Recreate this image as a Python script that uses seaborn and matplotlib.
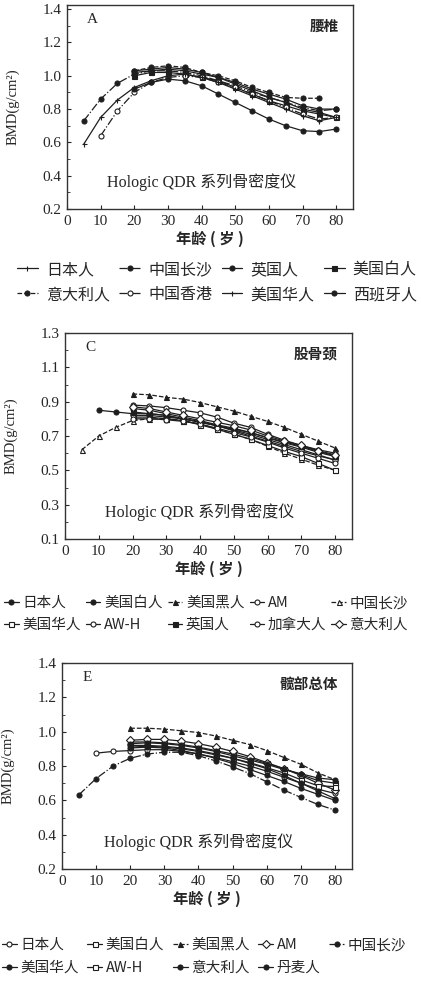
import matplotlib
matplotlib.use("Agg")
import matplotlib.pyplot as plt
import seaborn as sns
from matplotlib.ticker import MultipleLocator

# ---- x 轴年龄 ----
AGE_5 = [5, 10, 15, 20, 25, 30, 35, 40, 45, 50, 55, 60, 65, 70, 75, 80]
AGE_10 = [10, 15, 20, 25, 30, 35, 40, 45, 50, 55, 60, 65, 70, 75, 80]
AGE_20 = [20, 25, 30, 35, 40, 45, 50, 55, 60, 65, 70, 75, 80]
AGE_20_75 = [20, 25, 30, 35, 40, 45, 50, 55, 60, 65, 70, 75]

# ---- A 腰椎 ----
A_RIBEN = [1.02, 1.03, 1.04, 1.03, 1.01, 0.99, 0.95, 0.91, 0.87, 0.84, 0.80, 0.78, 0.75]
A_CHANGSHA = [0.73, 0.86, 0.955, 1.01, 1.03, 1.03, 1.02, 1.00, 0.97, 0.94, 0.90, 0.87, 0.84, 0.81, 0.79, 0.80]
A_YINGGUO = [1.03, 1.04, 1.05, 1.04, 1.02, 0.99, 0.96, 0.92, 0.89, 0.86, 0.82, 0.80, 0.80]
A_MEIBAI = [1.00, 1.02, 1.02, 1.01, 0.99, 0.97, 0.93, 0.89, 0.85, 0.82, 0.79, 0.77, 0.75]
A_YIDALI = [1.03, 1.05, 1.06, 1.05, 1.02, 1.00, 0.97, 0.93, 0.90, 0.87, 0.865, 0.865]
A_XIANGGANG = [0.64, 0.79, 0.90, 0.96, 0.99, 1.00, 0.99, 0.96, 0.93, 0.89, 0.85, 0.81, 0.77, 0.74, 0.75]
A_MEIHUA = [0.59, 0.75, 0.855, 0.93, 0.97, 1.00, 1.01, 0.99, 0.96, 0.92, 0.88, 0.84, 0.80, 0.76, 0.73, 0.75]
A_XIBANYA = [0.92, 0.96, 0.98, 0.97, 0.94, 0.89, 0.84, 0.79, 0.74, 0.70, 0.67, 0.665, 0.68]

# ---- C 股骨颈 ----
C_RIBEN = [0.85, 0.84, 0.83, 0.83, 0.82, 0.80, 0.78, 0.76, 0.73, 0.70, 0.67, 0.64, 0.61, 0.585, 0.56]
C_MEIBAI = [0.86, 0.85, 0.83, 0.81, 0.79, 0.765, 0.745, 0.72, 0.69, 0.66, 0.635, 0.605, 0.58]
C_MEIHEI = [0.945, 0.94, 0.925, 0.915, 0.895, 0.87, 0.845, 0.815, 0.785, 0.75, 0.71, 0.67, 0.63]
C_AM = [0.88, 0.875, 0.865, 0.85, 0.835, 0.81, 0.775, 0.75, 0.71, 0.675, 0.645, 0.62, 0.60]
C_CHANGSHA = [0.62, 0.70, 0.75, 0.79, 0.80, 0.80, 0.79, 0.77, 0.74, 0.71, 0.68, 0.64, 0.60, 0.565, 0.53, 0.50]
C_MEIHUA = [0.81, 0.81, 0.80, 0.79, 0.765, 0.74, 0.71, 0.68, 0.645, 0.61, 0.58, 0.54, 0.50]
C_AWH = [0.82, 0.82, 0.81, 0.80, 0.78, 0.76, 0.735, 0.71, 0.68, 0.65, 0.62, 0.59, 0.56]
C_YINGGUO = [0.84, 0.83, 0.82, 0.80, 0.785, 0.76, 0.74, 0.72, 0.69, 0.665, 0.64, 0.61, 0.585]
C_JIANADA = [0.80, 0.80, 0.795, 0.785, 0.77, 0.745, 0.72, 0.695, 0.665, 0.63, 0.60, 0.57, 0.54]
C_YIDALI = [0.87, 0.86, 0.84, 0.82, 0.80, 0.78, 0.76, 0.735, 0.70, 0.67, 0.645, 0.615, 0.59]

# ---- E 髋部总体 ----
E_RIBEN = [0.875, 0.885, 0.89, 0.895, 0.895, 0.885, 0.87, 0.85, 0.825, 0.80, 0.77, 0.735, 0.70, 0.665, 0.64]
E_MEIBAI = [0.94, 0.94, 0.935, 0.925, 0.91, 0.89, 0.87, 0.845, 0.815, 0.785, 0.75, 0.715, 0.70]
E_MEIHEI = [1.02, 1.02, 1.015, 1.005, 0.995, 0.975, 0.95, 0.925, 0.89, 0.85, 0.81, 0.76, 0.72]
E_AM = [0.95, 0.955, 0.955, 0.945, 0.93, 0.91, 0.885, 0.855, 0.82, 0.785, 0.745, 0.70, 0.66]
E_CHANGSHA = [0.633, 0.727, 0.80, 0.845, 0.87, 0.88, 0.88, 0.86, 0.83, 0.795, 0.756, 0.708, 0.66, 0.617, 0.576, 0.543]
E_MEIHUA = [0.93, 0.935, 0.93, 0.92, 0.905, 0.885, 0.86, 0.835, 0.81, 0.78, 0.755, 0.73, 0.72]
E_AWH = [0.91, 0.915, 0.91, 0.90, 0.885, 0.865, 0.845, 0.82, 0.79, 0.76, 0.72, 0.685, 0.68]
E_YIDALI = [0.905, 0.91, 0.905, 0.89, 0.87, 0.845, 0.815, 0.78, 0.745, 0.71, 0.67, 0.635, 0.60]
E_DANMAI = [0.92, 0.92, 0.915, 0.905, 0.89, 0.87, 0.845, 0.815, 0.785, 0.745, 0.70, 0.655, 0.61]

INK = "#1e1e1e"

SERIES_A = [
    ("日本人", AGE_20, A_RIBEN, "|", True, "-"),
    ("中国长沙", AGE_5, A_CHANGSHA, "o", True, "-."),
    ("英国人", AGE_20, A_YINGGUO, "o", True, "-"),
    ("美国白人", AGE_20, A_MEIBAI, "s", True, "-"),
    ("意大利人", AGE_20_75, A_YIDALI, "o", True, "--"),
    ("中国香港", AGE_10, A_XIANGGANG, "o", False, "-."),
    ("美国华人", AGE_5, A_MEIHUA, "+", True, "-"),
    ("西班牙人", AGE_20, A_XIBANYA, "o", True, "-"),
]
SERIES_C = [
    ("日本人", AGE_10, C_RIBEN, "o", True, "-"),
    ("美国白人", AGE_20, C_MEIBAI, "o", True, "-"),
    ("美国黑人", AGE_20, C_MEIHEI, "^", True, "--"),
    ("AM", AGE_20, C_AM, "o", False, "-"),
    ("中国长沙", AGE_5, C_CHANGSHA, "^", False, "--"),
    ("美国华人", AGE_20, C_MEIHUA, "s", False, "-"),
    ("AW-H", AGE_20, C_AWH, "o", False, "-"),
    ("英国人", AGE_20, C_YINGGUO, "s", True, "-"),
    ("加拿大人", AGE_20, C_JIANADA, "o", False, "-"),
    ("意大利人", AGE_20, C_YIDALI, "D", False, "-"),
]
SERIES_E = [
    ("日本人", AGE_10, E_RIBEN, "o", False, "-"),
    ("美国白人", AGE_20, E_MEIBAI, "s", False, "-"),
    ("美国黑人", AGE_20, E_MEIHEI, "^", True, "--"),
    ("AM", AGE_20, E_AM, "D", False, "-"),
    ("中国长沙", AGE_5, E_CHANGSHA, "o", True, "-."),
    ("美国华人", AGE_20, E_MEIHUA, "o", True, "-"),
    ("AW-H", AGE_20, E_AWH, "s", False, "-"),
    ("意大利人", AGE_20, E_YIDALI, "o", True, "-"),
    ("丹麦人", AGE_20, E_DANMAI, "o", True, "-"),
]

sns.set_style("ticks")
plt.rcParams["font.family"] = ["Liberation Serif", "Noto Sans CJK SC"]
plt.rcParams["axes.unicode_minus"] = False
CJK = ["Noto Sans CJK SC", "Liberation Serif"]


def rowmajor(items, ncol):
    n = len(items)
    nrow = -(-n // ncol)
    return [items[r * ncol + c] for c in range(ncol) for r in range(nrow) if r * ncol + c < n]


def draw_panel(ax, series, ylim, yticks, yminor, letter, site, legend_xy, leg_kw):
    for name, ages, vals, mk, filled, ls in series:
        sns.lineplot(x=ages, y=vals, ax=ax, label=name, color=INK, marker=mk,
                     markersize=3.6, markerfacecolor=INK if filled else "white",
                     markeredgecolor=INK, markeredgewidth=0.8, linestyle=ls,
                     linewidth=0.9)
    ax.set_xlim(0, 85)
    ax.set_ylim(*ylim)
    ax.set_xticks([0, 10, 20, 30, 40, 50, 60, 70, 80])
    ax.set_yticks(yticks)
    ax.set_yticklabels([f"{v:.1f}" for v in yticks])
    ax.yaxis.set_minor_locator(MultipleLocator(yminor))
    ax.tick_params(axis="both", which="major", direction="in", length=3, labelsize=11, pad=4)
    ax.tick_params(axis="y", which="minor", direction="in", length=2)
    for sp in ax.spines.values():
        sp.set_visible(True)
        sp.set_linewidth(1.0)
        sp.set_color("#333333")
    ax.set_xlabel("年龄 ( 岁 )", family=CJK, fontweight="bold", fontsize=11, labelpad=2)
    ax.set_ylabel("BMD(g/cm²)", fontsize=10.5)
    ax.yaxis.set_label_coords(-0.165, 0.5)
    ax.text(0.07, 0.93, letter, transform=ax.transAxes, fontsize=11, ha="left", va="center")
    ax.text(0.95, 0.90, site, transform=ax.transAxes, family=CJK, fontweight="bold",
            fontsize=10.5, ha="right", va="center")
    ax.text(0.47, 0.13, "Hologic QDR 系列骨密度仪", transform=ax.transAxes,
            fontsize=11.5, ha="center", va="center")

    handles, labels = ax.get_legend_handles_labels()
    ax.get_legend().remove()
    ncol = leg_kw.pop("ncol")
    pairs = rowmajor(list(zip(handles, labels)), ncol)
    fig.legend([p[0] for p in pairs], [p[1] for p in pairs], ncol=ncol,
               loc="upper left", bbox_to_anchor=legend_xy, frameon=False,
               borderpad=0, borderaxespad=0, prop={"family": CJK, "size": leg_kw.pop("size")},
               **leg_kw)


W, H = 421, 981
fig = plt.figure(figsize=(W / 100, H / 100), dpi=100)

axA = fig.add_axes([67 / W, 1 - 209 / H, 286 / W, 204 / H])
draw_panel(axA, SERIES_A, (0.2, 1.425), [0.2, 0.4, 0.6, 0.8, 1.0, 1.2, 1.4], 0.1,
           "A", "腰椎", (17 / W, 1 - 261 / H),
           dict(ncol=4, size=11.5, handlelength=1.3, handletextpad=0.5,
                columnspacing=0.6, labelspacing=0.5))

axC = fig.add_axes([65 / W, 1 - 539 / H, 287 / W, 206 / H])
draw_panel(axC, SERIES_C, (0.1, 1.3), [0.1, 0.3, 0.5, 0.7, 0.9, 1.1, 1.3], 0.1,
           "C", "股骨颈", (4 / W, 1 - 596 / H),
           dict(ncol=5, size=10.5, handlelength=1.0, handletextpad=0.25,
                columnspacing=0.35, labelspacing=0.55))

axE = fig.add_axes([62 / W, 1 - 869 / H, 290 / W, 206 / H])
draw_panel(axE, SERIES_E, (0.2, 1.4), [0.2, 0.4, 0.6, 0.8, 1.0, 1.2, 1.4], 0.1,
           "E", "髋部总体", (2 / W, 1 - 938 / H),
           dict(ncol=5, size=10.5, handlelength=1.0, handletextpad=0.25,
                columnspacing=0.6, labelspacing=0.6))

fig.savefig("out.png", dpi=100)
